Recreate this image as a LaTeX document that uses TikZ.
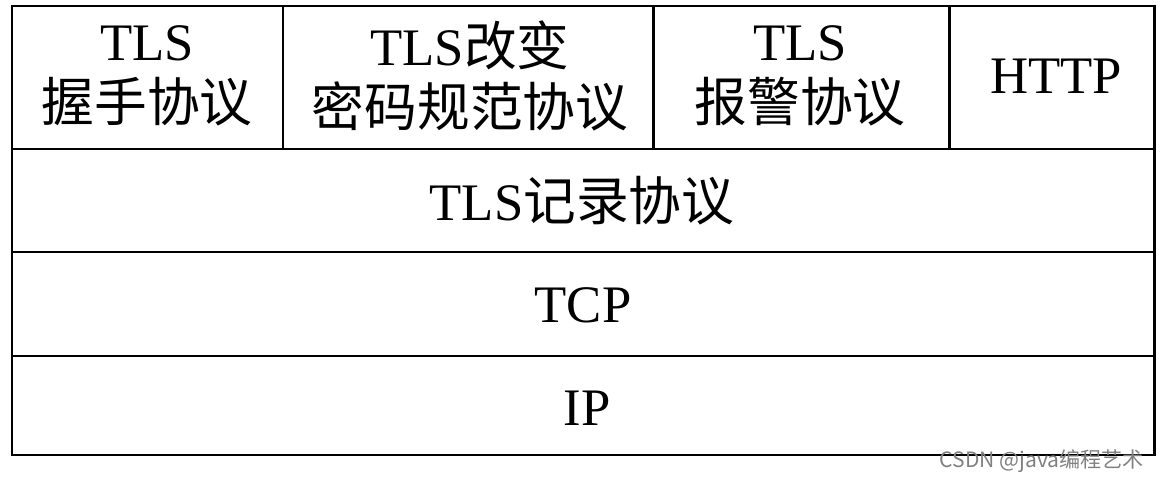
\documentclass[tikz,border=0pt]{standalone}
\usepackage{fontspec}
\setmainfont{Liberation Serif}
\newfontfamily\cjk{Noto Sans CJK SC}
\tikzset{
    proto/.style={align=center, font=\fontsize{30}{35}\selectfont},
    frame/.style={line width=1.7pt}
}
\begin{document}
\begin{tikzpicture}[x=0.02cm, y=-0.02cm]
    \useasboundingbox (0,0) rectangle (1166,479);
    
    % Draw the outer box
    \draw[frame] (12,6) rectangle (1154,455);
    
    % Draw the layer lines
    \draw[frame] (12,149) -- (1154,149);
    \draw[frame] (12,252) -- (1154,252);
    \draw[frame] (12,356) -- (1154,356);
    
    % Draw the dividers of the top layer
    \draw[frame] (283,6) -- (283,149);
    \draw[frame] (653,6) -- (653,149);
    \draw[frame] (949,6) -- (949,149);
    
    % Add the protocol names
    \node[proto] (handshake) at (147,76) {TLS\\{\cjk 握手协议}};
    \node[proto] (cipher) at (470,76) {TLS{\cjk 改变}\\{\cjk 密码规范协议}};
    \node[proto] (alert) at (800,76) {TLS\\{\cjk 报警协议}};
    \node[proto] (http) at (1056,76) {HTTP};
    \node[proto] (record) at (582,201) {TLS{\cjk 记录协议}};
    \node[proto] (tcp) at (583,305) {TCP};
    \node[proto] (ip) at (587,408) {IP};
    
    % Add the watermark
    \node[gray, font=\cjk\fontsize{12}{14}\selectfont, anchor=east] (mark) at (1150,461) {CSDN @java编程艺术};
    
\end{tikzpicture}
\end{document}
